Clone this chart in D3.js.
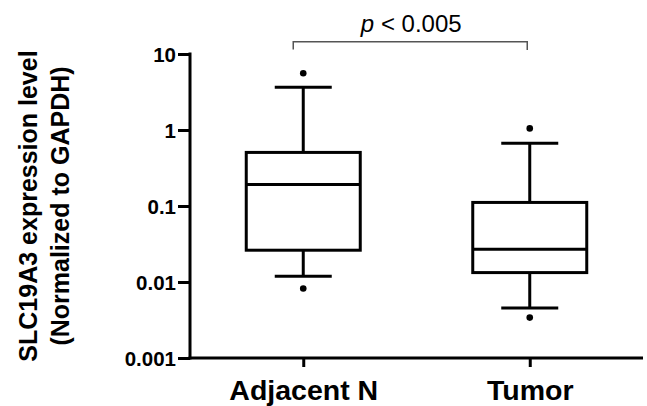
<!DOCTYPE html>
<html>
<head>
<meta charset="utf-8">
<script src="https://cdn.jsdelivr.net/npm/d3@7"></script>
<style>
  body { margin: 0; background: #fff; }
  svg { display: block; font-family: "Liberation Sans", Arial, sans-serif; }
</style>
</head>
<body>
<svg id="chart"></svg>
<script>
var width = 647, height = 406;

// data
var groups = ["Adjacent N", "Tumor"];
var whiskerLow  = [0.0119, 0.00456];
var q1          = [0.0262, 0.0133];
var median      = [0.192, 0.0270];
var q3          = [0.507, 0.1114];
var whiskerHigh = [3.64, 0.667];
var outliers    = [[5.57, 0.0082], [1.05, 0.0034]];
var yTicks = [10, 1, 0.1, 0.01, 0.001];
var yTickLabels = ["10", "1", "0.1", "0.01", "0.001"];
var pLabel = "p < 0.005";

var boxes = groups.map(function(g, i){
    return {name: g, lo: whiskerLow[i], q1: q1[i], med: median[i], q3: q3[i], hi: whiskerHigh[i], out: outliers[i]};
});

var svg = d3.select('#chart')
    .attr('width', width)
    .attr('height', height);

var x = d3.scalePoint()
    .domain(groups)
    .range([190, 643])
    .padding(0.5);

var y = d3.scaleLog()
    .domain([0.001, 10])
    .range([358, 54]);

var boxW = 114, capW = 57;

// axes
var yAxis = svg.append("g")
    .attr("transform", "translate(190,0)")
    .call(d3.axisLeft(y).tickValues(yTicks).tickFormat((d,i) => yTickLabels[i]).tickSize(12).tickSizeOuter(0).tickPadding(2));

var xAxis = svg.append("g")
    .attr("transform", "translate(0,358)")
    .call(d3.axisBottom(x).tickSize(9).tickSizeOuter(0).tickPadding(13));

yAxis.selectAll("path, line").attr("stroke", "#000").attr("stroke-width", 3);
xAxis.selectAll("path, line").attr("stroke", "#000").attr("stroke-width", 3);
yAxis.select(".domain").attr("d", "M0," + (y(10) - 1.5) + "V" + (y(0.001) + 1.5));
xAxis.select(".domain").attr("d", "M188.5,0H643");

yAxis.selectAll("text")
    .attr("fill", "#000")
    .style("font-size", "20.5px")
    .style("font-weight", "bold")
    .attr("dy", "0.36em");

xAxis.selectAll("text")
    .attr("fill", "#000")
    .style("font-size", "28.5px")
    .style("font-weight", "bold")
    .attr("dy", "0.71em");

// y title
var title = svg.append("text")
    .attr("transform", "translate(0," + ((y(10) + y(0.001)) / 2) + ") rotate(-90)")
    .attr("text-anchor", "middle")
    .style("font-size", "25px")
    .style("font-weight", "bold")
    .attr("fill", "#000");
title.append("tspan").attr("x", 0).attr("y", 37).text("SLC19A3 expression level");
title.append("tspan").attr("x", 0).attr("y", 69).text("(Normalized to GAPDH)");

// boxes
var bx = svg.append("g").attr("id", "boxes");

var b = bx.selectAll(".box").data(boxes)
    .enter().append("g")
    .attr("class", "box");

b.append("line")
    .attr("x1", d => x(d.name)).attr("x2", d => x(d.name))
    .attr("y1", d => y(d.hi)).attr("y2", d => y(d.q3))
    .attr("stroke", "#000").attr("stroke-width", 3);

b.append("line")
    .attr("x1", d => x(d.name)).attr("x2", d => x(d.name))
    .attr("y1", d => y(d.q1)).attr("y2", d => y(d.lo))
    .attr("stroke", "#000").attr("stroke-width", 3);

b.append("line")
    .attr("x1", d => x(d.name) - capW / 2).attr("x2", d => x(d.name) + capW / 2)
    .attr("y1", d => y(d.hi)).attr("y2", d => y(d.hi))
    .attr("stroke", "#000").attr("stroke-width", 3);

b.append("line")
    .attr("x1", d => x(d.name) - capW / 2).attr("x2", d => x(d.name) + capW / 2)
    .attr("y1", d => y(d.lo)).attr("y2", d => y(d.lo))
    .attr("stroke", "#000").attr("stroke-width", 3);

b.append("rect")
    .attr("x", d => x(d.name) - boxW / 2)
    .attr("width", boxW)
    .attr("y", d => y(d.q3))
    .attr("height", d => y(d.q1) - y(d.q3))
    .attr("fill", "#fff")
    .attr("stroke", "#000").attr("stroke-width", 3);

b.append("line")
    .attr("x1", d => x(d.name) - boxW / 2).attr("x2", d => x(d.name) + boxW / 2)
    .attr("y1", d => y(d.med)).attr("y2", d => y(d.med))
    .attr("stroke", "#000").attr("stroke-width", 3);

b.selectAll(".dot").data(d => d.out.map(v => ({name: d.name, v: v})))
    .enter().append("circle")
    .attr("class", "dot")
    .attr("cx", d => x(d.name))
    .attr("cy", d => y(d.v))
    .attr("r", 3.3)
    .attr("fill", "#000");

// significance bracket
var bl = x(groups[0]) - 10, br = x(groups[1]) - 2.5;
svg.append("path")
    .attr("d", "M" + bl + ",49.5V41.7H" + br + "V50")
    .attr("fill", "none")
    .attr("stroke", "#555")
    .attr("stroke-width", 1.5);

var pt = svg.append("text")
    .attr("x", (bl + br) / 2 + 1)
    .attr("y", 31.5)
    .attr("text-anchor", "middle")
    .style("font-size", "24px")
    .attr("fill", "#000");
pt.append("tspan").style("font-style", "italic").text("p");
pt.append("tspan").text(" < 0.005");
</script>
</body>
</html>
